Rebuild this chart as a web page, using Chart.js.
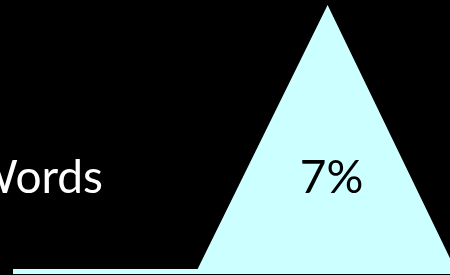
<!DOCTYPE html>
<html>
<head>
<meta charset="utf-8">
<style>
  html, body { margin: 0; padding: 0; background: #000; overflow: hidden; }
  #wrap { position: relative; width: 450px; height: 275px; }
</style>
<script src="https://cdn.jsdelivr.net/npm/chart.js@4/dist/chart.umd.min.js"></script>
</head>
<body>
<div id="wrap"><canvas id="chart"></canvas></div>
<script>
// data (x in bins, y in % of words)
const binPositions = [0, 1.42, 2.42, 3.42];
const shareValues = [0.13, 0.13, 7, 0];
const peakLabel = "7%";
const sideLabel = "Words";

// text drawn on top of the area
const labelPlugin = {
  id: "labels",
  afterDatasetsDraw(chart) {
    const { ctx } = chart;
    const xs = chart.scales.x;
    ctx.save();
    ctx.font = '46px Lato, "DejaVu Sans", sans-serif';
    ctx.textBaseline = "alphabetic";
    ctx.fillStyle = "#ffffff";
    ctx.textAlign = "right";
    ctx.fillText(sideLabel, 103, 193);
    ctx.fillStyle = "#000000";
    ctx.textAlign = "center";
    ctx.fillText(peakLabel, xs.getPixelForValue(binPositions[2]) + 4, 193);
    ctx.restore();
  },
};

new Chart(document.getElementById("chart"), {
  type: "line",
  data: {
    datasets: [
      {
        data: binPositions.map((x, i) => ({ x, y: shareValues[i] })),
        fill: "origin",
        backgroundColor: "#ccffff",
        borderWidth: 0,
        pointRadius: 0,
        tension: 0,
      },
    ],
  },
  options: {
    responsive: true,
    maintainAspectRatio: false,
    animation: false,
    layout: { padding: { bottom: 1 } },
    scales: {
      x: { type: "linear", min: -0.1, max: 3.3615, display: false },
      y: { min: 0, max: 7.13, display: false },
    },
    plugins: { legend: { display: false }, tooltip: { enabled: false } },
  },
  plugins: [labelPlugin],
});
</script>
</body>
</html>
